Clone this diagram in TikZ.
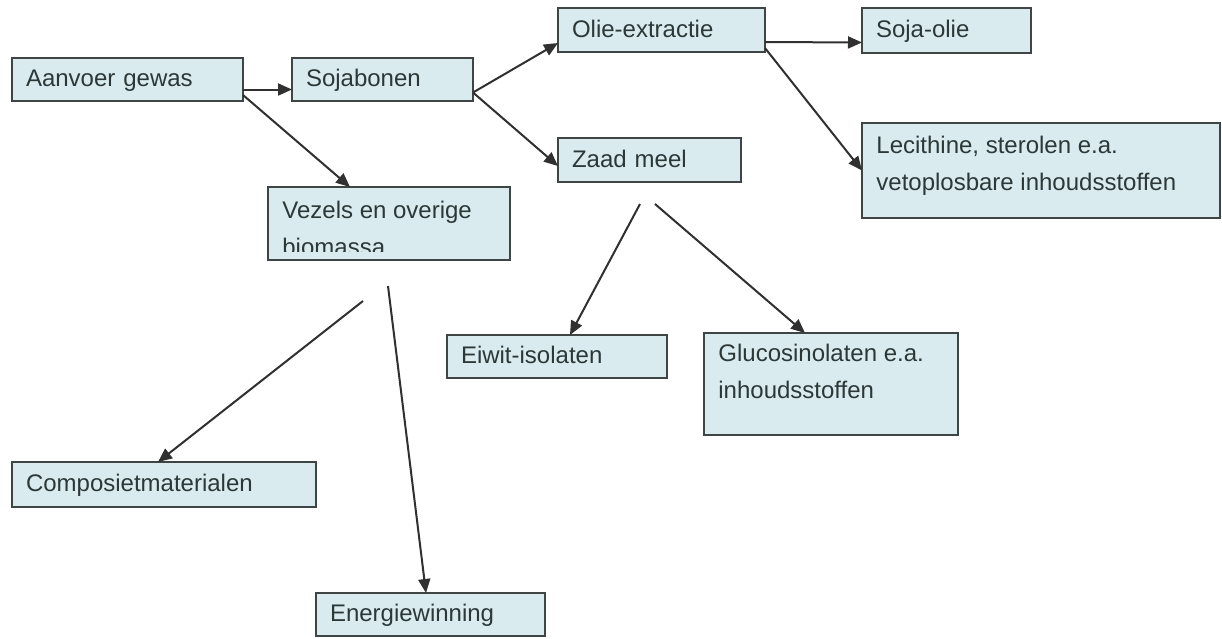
\documentclass[tikz,border=0pt]{standalone}
\usepackage{fontspec}
\setmainfont{Liberation Sans}
\usetikzlibrary{arrows.meta}
\definecolor{boxfill}{HTML}{DAEBEF}
\definecolor{boxline}{HTML}{3F4444}
\definecolor{txt}{HTML}{2C3838}
\definecolor{arr}{HTML}{303030}
\begin{document}
\begin{tikzpicture}[x=0.5pt,y=-0.5pt,
 box/.style={draw=boxline, fill=boxfill, line width=1.1pt, rectangle, anchor=north west, outer sep=0pt, inner xsep=7pt, inner ysep=0pt, align=left, font=\fontsize{12}{18.5}\selectfont, text=txt, text height=8.6pt, text depth=1.6pt},
 lbl/.style={anchor=north west, inner sep=0pt, align=left, font=\fontsize{12}{18.5}\selectfont, text=txt},
 flow/.style={draw=arr, line width=1pt, -{Triangle[length=7pt,width=6pt]}}]

\useasboundingbox[fill=white] (0,0) rectangle (1222,638);

% single-line boxes
\node[box, minimum width=115.5pt, minimum height=21.5pt, text width=101.5pt] (aanvoer) at (12,58) {Aanvoer gewas};
\node[box, minimum width=90.5pt, minimum height=21.5pt, text width=76.5pt] (sojabonen) at (292,58) {Sojabonen};
\node[box, minimum width=103.5pt, minimum height=22pt, text width=89.5pt] (olie) at (558,8) {Olie-extractie};
\node[box, minimum width=84.5pt, minimum height=22.5pt, text width=70.5pt] (sojaolie) at (862,8) {Soja-olie};
\node[box, minimum width=91.5pt, minimum height=22pt, text width=77.5pt] (zaad) at (558,138) {Zaad meel};
\node[box, minimum width=110pt, minimum height=21.5pt, text width=96pt] (eiwit) at (447,335) {Eiwit-isolaten};
\node[box, minimum width=152pt, minimum height=22.5pt, text width=138pt] (compo) at (12,462) {Composietmaterialen};
\node[box, minimum width=114.5pt, minimum height=21.5pt, text width=100.5pt] (energie) at (316,593) {Energiewinning};

% multi-line boxes
\node[box, minimum width=179pt, minimum height=47.5pt] (lecithine) at (862,123) {};
\node[lbl] (lecithine-t) at ([xshift=7pt,yshift=-6.5pt]lecithine.north west) {Lecithine, sterolen e.a.\\vetoplosbare inhoudsstoffen};
\node[box, minimum width=127pt, minimum height=51pt] (gluco) at (704,333) {};
\node[lbl] (gluco-t) at ([xshift=7pt,yshift=-5.5pt]gluco.north west) {Glucosinolaten e.a.\\inhoudsstoffen};
\node[box, minimum width=121pt, minimum height=36.5pt] (vezels) at (268,187) {};
\begin{scope}
  \clip (vezels.north west) rectangle ([yshift=4.5pt]vezels.south east);
  \node[lbl] (vezels-t) at ([xshift=7pt,yshift=-6.9pt]vezels.north west) {Vezels en overige\\biomassa};
\end{scope}

% connectors
\draw[flow] ([yshift=-5pt]aanvoer.east) -- ([yshift=-5pt]sojabonen.west);
\draw[flow] ([yshift=3pt]aanvoer.south east) -- ([xshift=41pt]vezels.north west);
\draw[flow] ([yshift=-6.5pt]sojabonen.east) -- ([yshift=-6.5pt]olie.west);
\draw[flow] ([yshift=-6.5pt]sojabonen.east) -- ([yshift=-3pt]zaad.west);
\draw[flow] ([yshift=-6pt]olie.east) -- ([yshift=-6pt]sojaolie.west);
\draw[flow] ([yshift=2pt]olie.south east) -- (lecithine.west);

\coordinate (zm1) at (640,204);
\coordinate (zm2) at (655,204);
\draw[flow] (zm1) -- ([xshift=61.5pt]eiwit.north west);
\draw[flow] (zm2) -- ([xshift=50.5pt]gluco.north west);

\coordinate (vz1) at (363,301);
\coordinate (vz2) at (388,286);
\draw[flow] (vz1) -- ([xshift=73pt]compo.north west);
\draw[flow] (vz2) -- ([xshift=55pt]energie.north west);
\end{tikzpicture}
\end{document}
